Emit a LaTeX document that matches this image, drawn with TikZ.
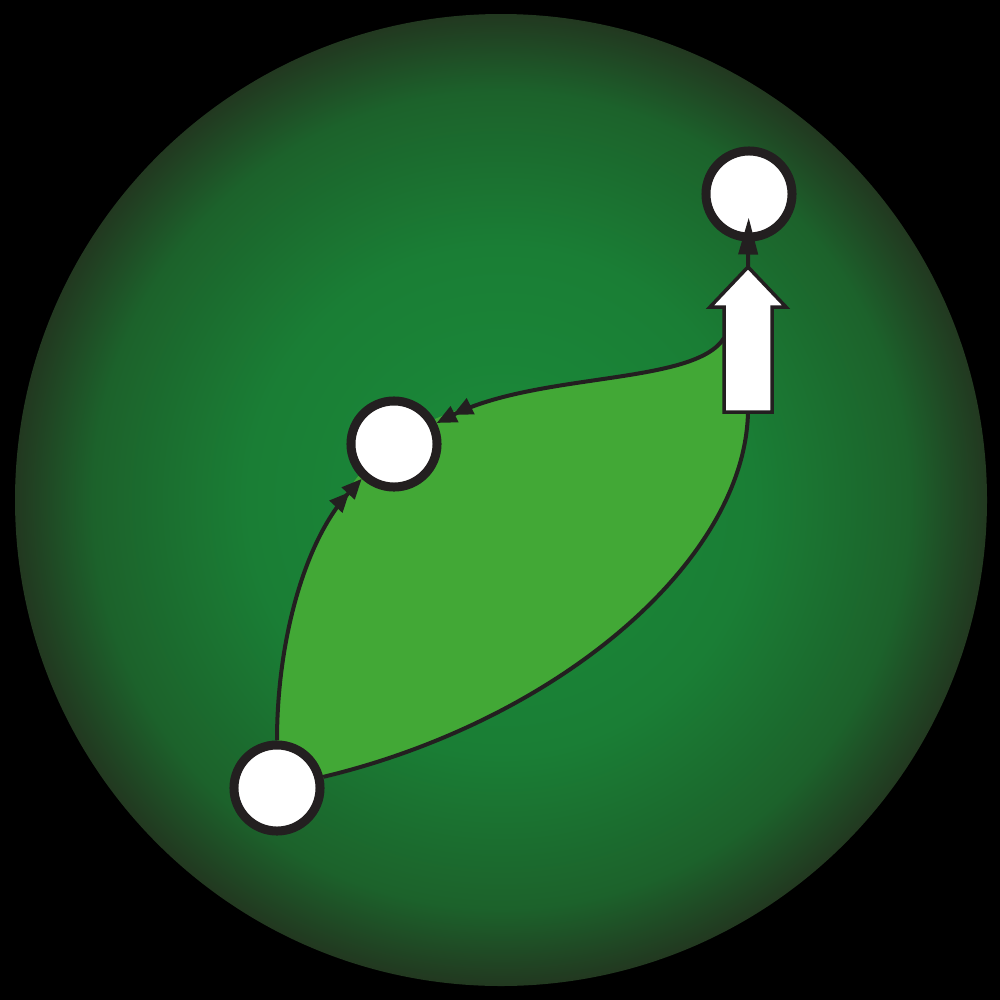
\documentclass[tikz,border=0pt]{standalone}
\usetikzlibrary{arrows.meta}
\definecolor{ink}{RGB}{35,31,32}
\definecolor{leaf}{RGB}{66,168,54}
\definecolor{gIn}{RGB}{27,140,58}
\definecolor{gMid}{RGB}{26,126,53}
\definecolor{gMid2}{RGB}{28,98,43}
\definecolor{gOut}{RGB}{34,56,32}
\pgfdeclareradialshading{bgshade}{\pgfpoint{0bp}{0bp}}{%
  color(0bp)=(gIn); color(13bp)=(gMid); color(21bp)=(gMid2); color(25bp)=(gOut); color(50bp)=(gOut)}
\tikzset{
  place/.style={circle, draw=ink, fill=white, line width=0.09cm, minimum size=0.86cm, inner sep=0pt},
  conn/.style={draw=ink, line width=0.04cm},
  dbl/.style={-{Triangle[length=0.2cm,width=0.17cm,sep=-0.02cm]Triangle[length=0.2cm,width=0.17cm]}},
  single/.style={-{Triangle[length=0.37cm,width=0.19cm]}},
  block/.style={draw=ink, fill=white, line width=0.035cm, line join=miter},
  region/.style={fill=leaf}
}
\begin{document}
\begin{tikzpicture}[x=0.01cm,y=-0.01cm]
\fill[black] (0,0) rectangle (1000,1000);
\useasboundingbox (0,0) rectangle (1000,1000);
\shade[shading=bgshade] (501,500) circle[radius=486];
% light green region
\fill[region] (277,788) -- (277,742) .. controls (277,640) and (305,540) .. (360,474)
  -- (394,444) -- (435,419) .. controls (540,372) and (695,385) .. (724,338)
  -- (724,412) -- (748,412) .. controls (745,560) and (560,720) .. (322,779) -- cycle;
% nodes
\node[place] (A) at (277,788) {};
\node[place] (B) at (394,444) {};
\node[place] (C) at (749,194) {};
% block arrow
\draw[block] (724,412) -- (724,307) -- (710,307) -- (748,267) -- (786,307) -- (772,307) -- (772,412) -- cycle;
\coordinate (ts) at (724,338);
\coordinate (be) at (748,412);
\coordinate (at) at (748,267);
% connectors
\draw[conn, dbl] (A) .. controls (277,640) and (305,540) .. (B);
\draw[conn, dbl] (ts) .. controls (695,385) and (540,372) .. (B);
\draw[conn] (be) .. controls (745,560) and (560,720) .. (A);
\draw[conn, single, shorten >=-0.24cm] (at) -- (C);
\end{tikzpicture}
\end{document}
